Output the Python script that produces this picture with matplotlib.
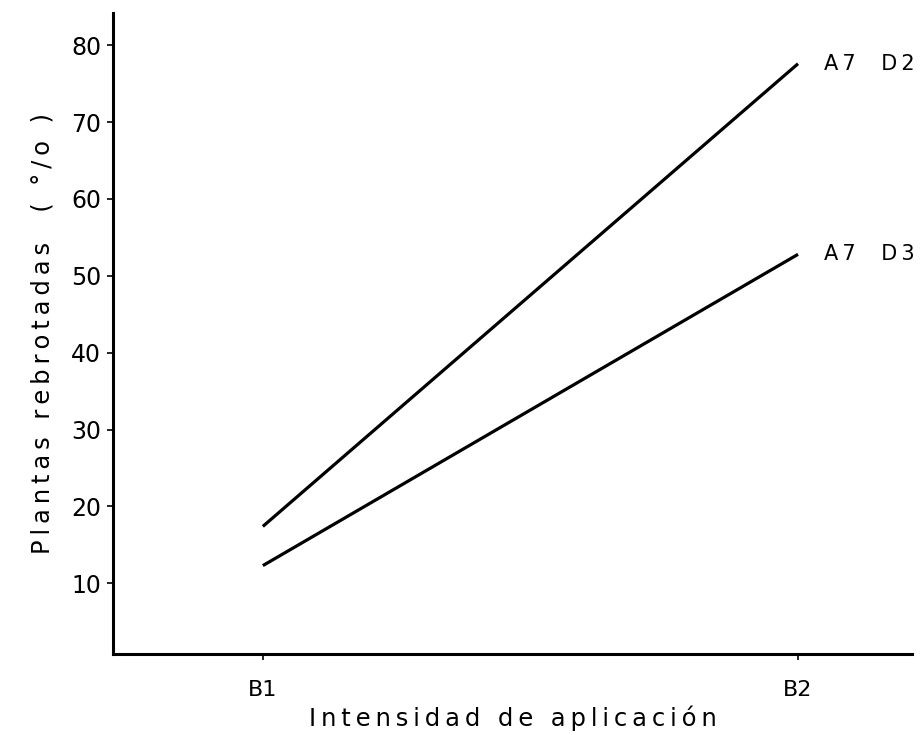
import matplotlib
matplotlib.use("Agg")
import matplotlib.pyplot as plt

# Data
categories = ["B1", "B2"]
series_names = ["A7  D2", "A7  D3"]
a7d2 = [17.4, 77.6]
a7d3 = [12.3, 52.8]
yticks = [10, 20, 30, 40, 50, 60, 70, 80]
xlabel = "Intensidad de aplicación"
ylabel = "Plantas rebrotadas  ( °/o )"

plt.rcParams['font.family'] = ['DejaVu Sans']


def spaced(s, sep='\u2009'):
    return sep.join(s)


fig = plt.figure(figsize=(9.23, 7.35), dpi=100)
ax = fig.add_axes([113/923, 1-654/735, (912-113)/923, (654-13)/735])

xpos = [1, 2]
for vals, name in zip([a7d2, a7d3], series_names):
    ax.plot(xpos, vals, color='black', lw=2.3, solid_capstyle='butt')
    ax.annotate(spaced(name), xy=(xpos[-1], vals[-1]), xytext=(19, 0),
                textcoords='offset points', va='center', ha='left',
                fontsize=15, color='black')

ax.set_xlim(0.72, 2.213)
ax.set_ylim(0.8, 84.2)
ax.set_xticks(xpos)
ax.set_xticklabels(categories, fontsize=16)
ax.set_yticks(yticks)
ax.set_yticklabels([str(v) for v in yticks], fontsize=17)
ax.tick_params(axis='y', direction='out', length=4.5, width=1.2, pad=4)
ax.tick_params(axis='x', direction='out', length=4, width=1.2, pad=15)

for s in ['top', 'right']:
    ax.spines[s].set_visible(False)
for s in ['left', 'bottom']:
    ax.spines[s].set_linewidth(2.2)

ax.set_xlabel(spaced(xlabel), fontsize=17.5, labelpad=4)
ax.set_ylabel(spaced(ylabel), fontsize=17.5, labelpad=12)

fig.savefig("out.png", dpi=100)
